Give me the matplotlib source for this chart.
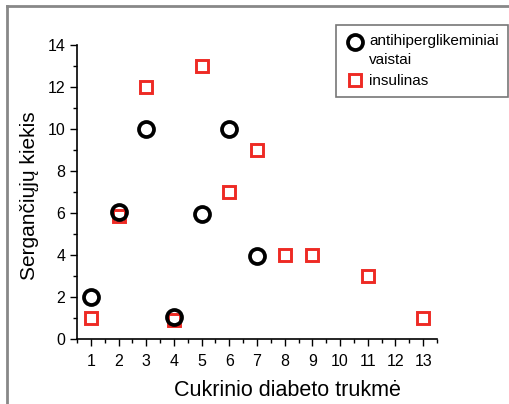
import numpy as np
import matplotlib
matplotlib.use('Agg')
import matplotlib.pyplot as plt
from matplotlib.lines import Line2D
from matplotlib.legend_handler import HandlerLine2D

# duomenys
circ_x = [1, 2, 3, 4, 5, 6, 7]
circ_y = [2, 6.07, 10, 1.07, 5.96, 10, 3.97]
sq_x = [1, 2, 3, 4, 5, 6, 7, 8, 9, 11, 13]
sq_y = [1, 5.85, 12, 0.9, 13, 7, 9, 4, 4, 3, 1]
xticks = list(range(1, 14))
yticks = [0, 2, 4, 6, 8, 10, 12, 14]

plt.rcParams['font.family'] = ['Liberation Sans', 'DejaVu Sans']


class UpHandler(HandlerLine2D):
    # markeris prie pirmos eilutes
    def create_artists(self, legend, orig_handle, xdescent, ydescent, width, height, fontsize, trans):
        arts = super().create_artists(legend, orig_handle, xdescent, ydescent, width, height, fontsize, trans)
        for a in arts:
            a.set_ydata(np.asarray(a.get_ydata()) + 6.5)
        return arts


fig = plt.figure(figsize=(5.1, 4.04), dpi=100)
ax = fig.add_axes([77 / 510, 1 - 339 / 404, 360 / 510, 294 / 404])

red = '#ee2a24'
circ_style = dict(linestyle='none', marker='o', markersize=10.8, markerfacecolor='none',
                  markeredgecolor='black', markeredgewidth=2.7)
sq_style = dict(linestyle='none', marker='s', markersize=9.3, markerfacecolor='none',
                markeredgecolor=red, markeredgewidth=2.1)
ax.plot(sq_x, sq_y, zorder=2, **sq_style)
ax.plot(circ_x, circ_y, zorder=3, **circ_style)

ax.set_xlim(0.5, 13.5)
ax.set_ylim(0, 14)
ax.set_xticks(xticks)
ax.set_yticks(yticks)
ax.set_xticks(np.arange(0.5, 14, 1), minor=True)
ax.set_yticks(np.arange(1, 14, 2), minor=True)
ax.tick_params(which='major', direction='out', length=5, width=1, labelsize=11.5)
ax.tick_params(which='minor', direction='out', length=3, width=1)
ax.tick_params(axis='x', which='major', pad=6)
for s in ['top', 'right']:
    ax.spines[s].set_visible(False)
for s in ['left', 'bottom']:
    ax.spines[s].set_linewidth(1.2)

ax.set_xlabel('Cukrinio diabeto trukmė', fontsize=15.5)
ax.set_ylabel('Sergančiųjų kiekis', fontsize=15)
ax.xaxis.set_label_coords((287 - 77) / 360, -0.138)
ax.yaxis.set_label_coords((39 - 77) / 360, (339 - 196) / 294)

h_circ = Line2D([], [], **circ_style)
h_sq = Line2D([], [], **sq_style)
leg = fig.legend([h_circ, h_sq], ['antihiperglikeminiai\nvaistai', 'insulinas'],
                 loc='upper right', bbox_to_anchor=(508 / 510, 1 - 25 / 404),
                 borderaxespad=0, fontsize=11, frameon=True, fancybox=False,
                 edgecolor='#555555', handlelength=1.4, handletextpad=0.2,
                 borderpad=0.6, labelspacing=0.45,
                 handler_map={h_circ: UpHandler()})
leg.get_frame().set_linewidth(1.2)
for t in leg.get_texts():
    t.set_linespacing(1.45)

# ramelis
fig.add_artist(Line2D([7 / 510, 7 / 510], [0, 1 - 6 / 404], color='#888888', lw=2))
fig.add_artist(Line2D([7 / 510, 1], [1 - 6 / 404, 1 - 6 / 404], color='#888888', lw=2))

fig.savefig('out.png', dpi=100)
